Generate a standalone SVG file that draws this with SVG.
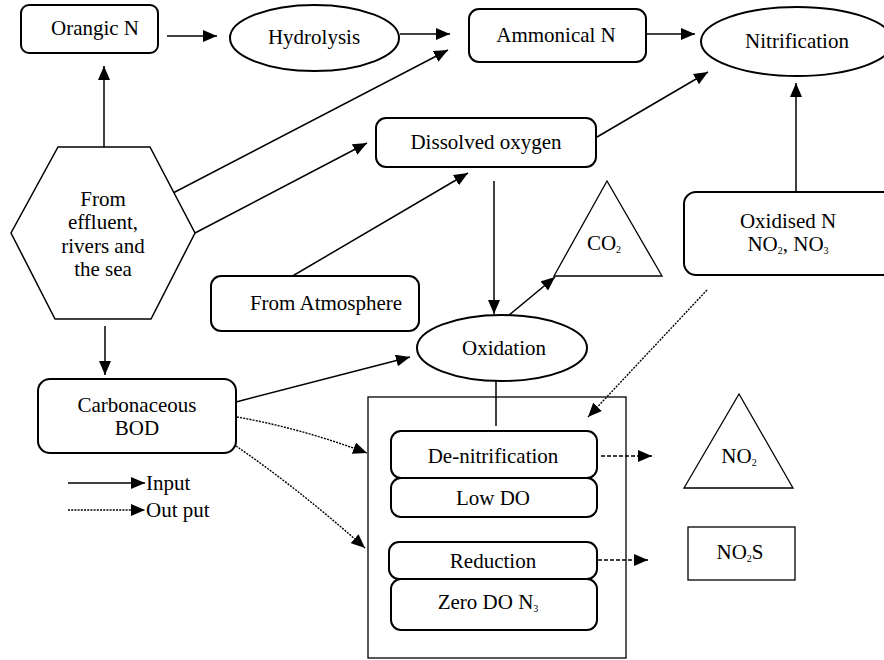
<svg xmlns="http://www.w3.org/2000/svg" width="884" height="660" viewBox="0 0 884 660">
<style>
.nd{fill:#fff;stroke:#000;stroke-width:2}
.th{fill:#fff;stroke:#000;stroke-width:1.3}
.t{font-family:"Liberation Serif","Times New Roman",serif;font-size:21px;fill:#000;text-anchor:middle}
.sub{font-size:10px}
.c{fill:none;stroke:#000;stroke-width:1.5}
.d{fill:none;stroke:#000;stroke-width:1.4;stroke-dasharray:2,1.2}
.dd{fill:none;stroke:#000;stroke-width:1.5;stroke-dasharray:4,2}
</style>
<defs>
<marker id="ah" viewBox="0 0 14 12" refX="14" refY="6" markerWidth="14" markerHeight="12" markerUnits="userSpaceOnUse" orient="auto">
<path d="M0,0 L14,6 L0,12 z" fill="#000"/>
</marker>
</defs>
<rect width="884" height="660" fill="#fff"/>
<g id="process-box">
<rect x="368" y="397" width="258" height="261" fill="none" stroke="#000" stroke-width="1.3"/>
</g>
<g id="connectors">
<line class="c" x1="167" y1="36" x2="217" y2="36" marker-end="url(#ah)"/>
<line class="c" x1="400" y1="34" x2="450" y2="34" marker-end="url(#ah)"/>
<line class="c" x1="646" y1="34" x2="695" y2="34" marker-end="url(#ah)"/>
<line class="c" x1="104" y1="147" x2="104" y2="66" marker-end="url(#ah)"/>
<line class="c" x1="173" y1="193" x2="448" y2="50" marker-end="url(#ah)"/>
<line class="c" x1="195" y1="233" x2="367" y2="143" marker-end="url(#ah)"/>
<line class="c" x1="284" y1="281" x2="468" y2="173" marker-end="url(#ah)"/>
<line class="c" x1="494" y1="181" x2="494" y2="314" marker-end="url(#ah)"/>
<line class="c" x1="508" y1="316" x2="555" y2="277" marker-end="url(#ah)"/>
<line class="c" x1="597" y1="137" x2="708" y2="72" marker-end="url(#ah)"/>
<line class="c" x1="796" y1="192" x2="796" y2="83" marker-end="url(#ah)"/>
<line class="d" x1="707" y1="290" x2="588" y2="417" marker-end="url(#ah)"/>
<line class="c" x1="496" y1="381" x2="496" y2="426"/>
<line class="dd" x1="601" y1="456" x2="652" y2="456" marker-end="url(#ah)"/>
<line class="dd" x1="598" y1="560" x2="648" y2="560" marker-end="url(#ah)"/>
<line class="c" x1="105" y1="326" x2="105" y2="375" marker-end="url(#ah)"/>
<line class="c" x1="236" y1="402" x2="410" y2="357" marker-end="url(#ah)"/>
<path class="d" d="M237,417 Q300,428 367,453" marker-end="url(#ah)"/>
<path class="d" d="M236,446 Q300,490 365,548" marker-end="url(#ah)"/>
</g>
<g id="orangic-n">
<rect class="nd" x="21" y="5" width="137" height="48" rx="8"/>
<text class="t" x="95" y="35">Orangic N</text>
</g>
<g id="hydrolysis">
<ellipse class="nd" cx="314.5" cy="38" rx="84.5" ry="33"/>
<text class="t" x="314" y="44">Hydrolysis</text>
</g>
<g id="ammonical-n">
<rect class="nd" x="469" y="9" width="177" height="53" rx="10"/>
<text class="t" x="556" y="42">Ammonical N</text>
</g>
<g id="nitrification">
<ellipse class="nd" cx="797" cy="41.5" rx="96" ry="34.5"/>
<text class="t" x="797" y="48">Nitrification</text>
</g>
<g id="source">
<polygon class="nd" points="58,147 150,147 195,233 151,319 55,319 11,233" style="stroke-width:1.5"/>
<text class="t" x="103" y="206">From</text>
<text class="t" x="103" y="229">effluent,</text>
<text class="t" x="103" y="253">rivers and</text>
<text class="t" x="103" y="276">the sea</text>
</g>
<g id="dissolved-oxygen">
<rect class="nd" x="376" y="118" width="220" height="49" rx="10"/>
<text class="t" x="486" y="149">Dissolved oxygen</text>
</g>
<g id="atmosphere">
<rect class="nd" x="211" y="276" width="208" height="55" rx="10"/>
<text class="t" x="326" y="310">From Atmosphere</text>
</g>
<g id="oxidation">
<ellipse class="nd" cx="502" cy="348" rx="85" ry="33"/>
<text class="t" x="504" y="355">Oxidation</text>
</g>
<g id="co2">
<polygon class="th" points="607,181 554,276 662,276"/>
<text class="t" x="604" y="250">CO<tspan class="sub" dy="3">2</tspan></text>
</g>
<g id="oxidised-n">
<rect class="nd" x="684" y="192" width="220" height="83" rx="12"/>
<text class="t" x="788" y="228">Oxidised N</text>
<text class="t" x="788" y="251">NO<tspan class="sub" dy="3">2</tspan><tspan dy="-3">, NO</tspan><tspan class="sub" dy="3">3</tspan></text>
</g>
<g id="carbonaceous-bod">
<rect class="nd" x="38" y="379" width="198" height="74" rx="12"/>
<text class="t" x="137" y="412">Carbonaceous</text>
<text class="t" x="137" y="435">BOD</text>
</g>
<g id="de-nitrification">
<rect class="nd" x="391" y="431" width="206" height="47" rx="10"/>
<text class="t" x="493" y="463">De-nitrification</text>
</g>
<g id="low-do">
<rect class="nd" x="391" y="478" width="206" height="39" rx="10"/>
<text class="t" x="493" y="505">Low DO</text>
</g>
<g id="reduction">
<rect class="nd" x="389" y="542" width="208" height="37" rx="10"/>
<text class="t" x="493" y="568">Reduction</text>
</g>
<g id="zero-do">
<rect class="nd" x="391" y="579" width="206" height="51" rx="10"/>
<text class="t" x="488" y="609">Zero DO N<tspan class="sub" dy="3">3</tspan></text>
</g>
<g id="no2">
<polygon class="th" points="739,394 684,488 793,488"/>
<text class="t" x="739" y="463">NO<tspan class="sub" dy="3">2</tspan></text>
</g>
<g id="no2s">
<rect class="th" x="688" y="527" width="107" height="53"/>
<text class="t" x="740" y="559">NO<tspan class="sub" dy="3">2</tspan><tspan dy="-3">S</tspan></text>
</g>
<g id="legend">
<line class="c" x1="68" y1="483" x2="145" y2="483" marker-end="url(#ah)"/>
<text class="t" x="146" y="490" style="text-anchor:start">Input</text>
<line class="d" x1="68" y1="510" x2="145" y2="510" marker-end="url(#ah)"/>
<text class="t" x="146" y="517" style="text-anchor:start">Out put</text>
</g>
</svg>
